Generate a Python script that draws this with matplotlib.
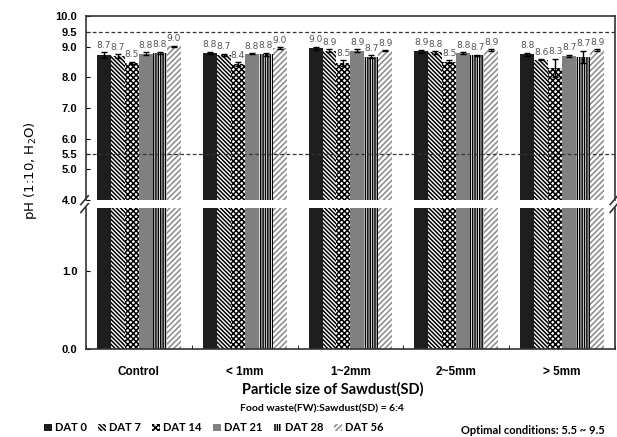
import numpy as np
import matplotlib
matplotlib.use('Agg')
import matplotlib.pyplot as plt

# Donnees (pH, moyenne et ecart)
categories = ['Control', '< 1mm', '1~2mm', '2~5mm', '> 5mm']
series = ['DAT 0', 'DAT 7', 'DAT 14', 'DAT 21', 'DAT 28', 'DAT 56']

dat0 = [8.72, 8.80, 8.96, 8.86, 8.76]
dat7 = [8.70, 8.74, 8.87, 8.82, 8.58]
dat14 = [8.47, 8.43, 8.46, 8.51, 8.31]
dat21 = [8.78, 8.78, 8.88, 8.79, 8.70]
dat28 = [8.81, 8.76, 8.68, 8.72, 8.68]
dat56 = [9.02, 8.96, 8.87, 8.90, 8.89]

err0 = [0.10, 0.04, 0.05, 0.05, 0.05]
err7 = [0.05, 0.04, 0.05, 0.04, 0.02]
err14 = [0.04, 0.06, 0.10, 0.05, 0.30]
err21 = [0.05, 0.02, 0.04, 0.04, 0.04]
err28 = [0.03, 0.05, 0.05, 0.02, 0.20]
err56 = [0.02, 0.02, 0.02, 0.02, 0.03]

valeurs = [dat0, dat7, dat14, dat21, dat28, dat56]
erreurs = [err0, err7, err14, err21, err28, err56]

# Styles des barres
couleurs = ['#1e1e1e', 'white', 'white', '#808080', 'white', 'white']
bords = ['#1e1e1e', 'black', 'black', '#808080', 'black', '#8a8a8a']
hachures = [None, '\\' * 8, 'x' * 6, None, '|' * 7, '/' * 6]

plt.rcParams['hatch.linewidth'] = 1.1
plt.rcParams['font.family'] = ['Liberation Sans', 'DejaVu Sans']

fig = plt.figure(figsize=(6.17, 4.37), dpi=100)
ax_haut = fig.add_axes([0.139, 0.542, 0.858, 0.421])
ax_bas = fig.add_axes([0.139, 0.201, 0.858, 0.323])

x = np.arange(len(categories))
largeur = 0.132
decal = (np.arange(len(series)) - 2.5) * largeur

for ax in (ax_haut, ax_bas):
    for i in range(len(series)):
        ax.bar(x + decal[i], valeurs[i], largeur, color=couleurs[i],
               edgecolor=bords[i], hatch=hachures[i], linewidth=0,
               label=series[i])
    ax.set_xlim(-0.5, len(categories) - 0.5)
    ax.set_xticks(x)
    ax.set_xticks(np.arange(len(categories) + 1) - 0.5, minor=True)
    for s in ax.spines.values():
        s.set_color('#333333')
        s.set_linewidth(1.2)

# Barres d'erreur et etiquettes dans la partie haute
for i in range(len(series)):
    ax_haut.errorbar(x + decal[i], valeurs[i], yerr=erreurs[i], fmt='none',
                     ecolor='black', elinewidth=1, capsize=2, capthick=1)
    for j in range(len(categories)):
        ax_haut.text(x[j] + decal[i], valeurs[i][j] + erreurs[i][j] + 0.08,
                     '%.1f' % valeurs[i][j], ha='center', va='bottom',
                     fontsize=6.5, color='#555555', family='DejaVu Sans')

# Lignes des conditions optimales
ax_haut.axhline(9.5, color='#333333', linestyle='--', linewidth=0.9, dashes=(3, 2))
ax_haut.axhline(5.5, color='#333333', linestyle='--', linewidth=0.9, dashes=(3, 2))

ax_haut.set_ylim(4, 10)
ax_haut.set_yticks([4, 5, 5.5, 6, 7, 8, 9, 9.5, 10])
ax_haut.set_yticklabels(['%.1f' % v for v in [4, 5, 5.5, 6, 7, 8, 9, 9.5, 10]])
ax_haut.spines['bottom'].set_visible(False)
ax_haut.tick_params(axis='x', which='both', bottom=False, labelbottom=False)

ax_bas.set_ylim(0, 1.81)
ax_bas.set_yticks([0, 1])
ax_bas.set_yticklabels(['0.0', '1.0'])
ax_bas.spines['top'].set_visible(False)
ax_bas.set_xticklabels(categories)
ax_bas.tick_params(axis='x', which='major', length=0, pad=12)
ax_bas.tick_params(axis='x', which='minor', direction='in', length=3)

for ax in (ax_haut, ax_bas):
    ax.tick_params(axis='y', direction='in', length=3, pad=6)
    for lab in ax.get_yticklabels() + ax.get_xticklabels():
        lab.set_fontweight('bold')
        lab.set_fontsize(8)
ax_bas.tick_params(axis='x', labelsize=8.5)

# Marques de coupure de l'axe
for xf in (0.139, 0.997):
    for yf in (0.542, 0.524):
        fig.add_artist(plt.Line2D([xf - 0.008, xf + 0.004], [yf - 0.01, yf + 0.01],
                                  color='#333333', linewidth=1.2))

fig.text(0.05, 0.609, 'pH (1:10, H$_2$O)', rotation=90, ha='center', va='center',
         fontsize=9.5, family='DejaVu Sans')
fig.text(0.54, 0.108, 'Particle size of Sawdust(SD)', ha='center', va='center',
         fontsize=10.5, fontweight='bold', family='Lato')
fig.text(0.522, 0.064, 'Food waste(FW):Sawdust(SD) = 6:4', ha='center', va='center',
         fontsize=7.5, fontweight='bold', family='Lato')
fig.text(0.98, 0.016, 'Optimal conditions: 5.5 ~ 9.5', ha='right', va='center',
         fontsize=8, fontweight='bold', family='Lato')

poignees, noms = ax_bas.get_legend_handles_labels()
fig.legend(poignees, noms, loc='center left', bbox_to_anchor=(0.055, 0.021),
           ncol=6, frameon=False, handlelength=0.7, handleheight=0.7,
           handletextpad=0.3, columnspacing=1.0,
           prop={'family': 'Lato', 'weight': 'bold', 'size': 8})

plt.savefig('out.png', dpi=100)
